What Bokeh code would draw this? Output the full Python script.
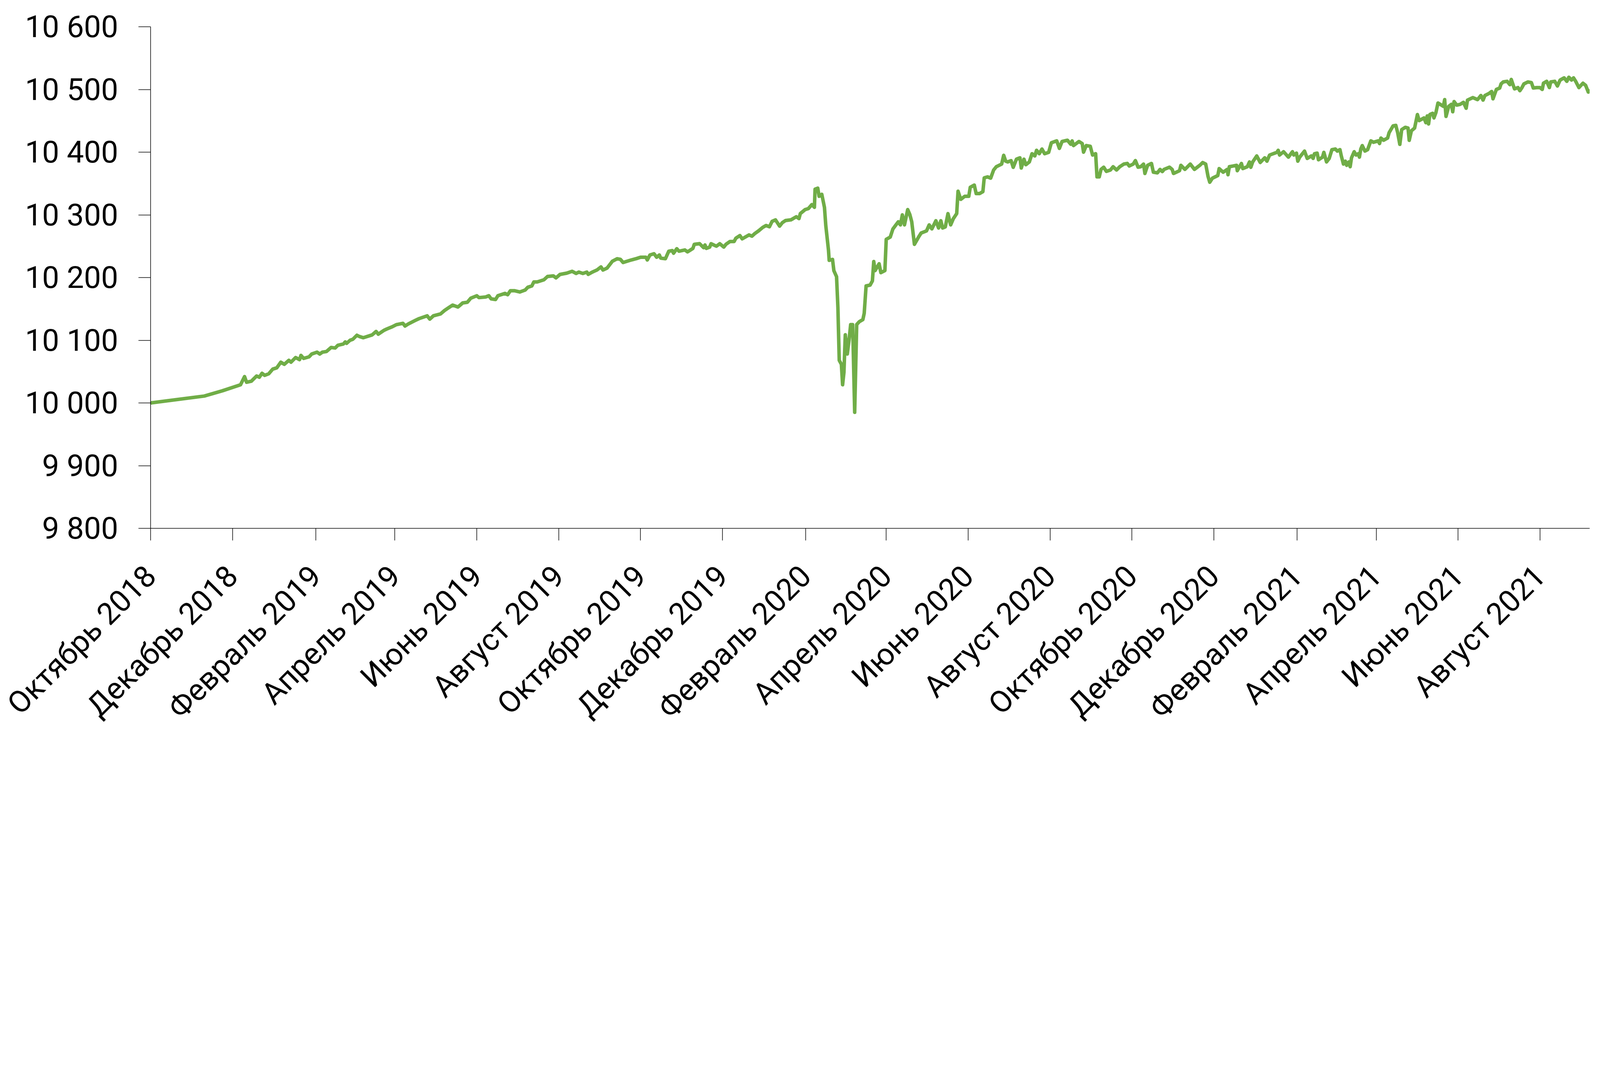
import math
import pandas as pd
from bokeh.plotting import figure
from bokeh.models import Range1d, FixedTicker, ColumnDataSource
from bokeh.embed import file_html
from bokeh.resources import INLINE

start_date = "2018-10-01"

# days since start_date
days = [
    0, 40, 53.5, 67, 70, 71.5, 75, 79, 81, 83, 85, 88, 91, 94, 97, 99.6, 103, 104.6, 108, 111,
    112, 114, 118, 120, 124, 126, 128, 131, 134.5, 137.5, 139.5, 143.6, 145, 146, 148.6, 150.7,
    153.7, 155.5, 158.5, 165, 168, 169.6, 174, 176, 180, 183, 188, 189.5, 192, 197, 200, 206,
    208, 210.7, 216, 219, 222, 225, 229, 232.5, 236, 238.5, 243, 244.6, 249.6, 252, 253.7, 257,
    258.7, 264, 266, 268, 271, 275, 279, 281, 284, 285.5, 288, 293, 295.7, 300, 302, 305, 310,
    314, 317, 319, 322, 325, 326, 329, 332.5, 335.5, 337, 340, 344, 347.6, 350, 352, 355, 358,
    362, 365, 369, 370, 372, 375, 377, 379, 380, 383.5, 386, 388.6, 389.6, 392, 393.6, 398, 400,
    404, 405, 409, 412, 413, 414, 416.5, 417.5, 421.5, 424, 427, 428.6, 431.6, 434.7, 436, 439,
    440.7, 445.8, 448, 450, 453, 456, 458.5, 461, 463, 465.5, 468.6, 470.6, 473, 477, 481, 483,
    484, 487.6, 490, 492.6, 494.5, 495, 497, 498, 500, 502, 503, 505, 505.5, 508, 509, 511, 512,
    513, 514.6, 515.5, 516.5, 517.5, 519, 520.5, 521.5, 523, 524.5, 526, 528, 530.6, 531.6, 533,
    536, 537.7, 538.7, 539.7, 542.7, 544, 547, 548, 551, 553, 557, 558.6, 560, 561.6, 564, 565.6,
    567, 569, 572.5, 574, 578, 580, 582, 585, 587, 588.7, 590, 592, 594, 596, 598, 600.5, 601.5,
    603.5, 606.5, 609.5, 610.6, 613.6, 615, 617.6, 620, 621, 623.5, 625.8, 628, 630, 634, 635.5,
    637, 638.5, 641, 642.6, 645, 647.6, 648.6, 650.6, 652, 654.6, 656.6, 658.7, 660, 662, 664,
    666, 669, 671, 675, 677, 679, 683, 685.5, 686.5, 687.5, 691.6, 694, 695, 697, 700, 701.7,
    704, 705, 706.7, 708, 710, 712, 715, 717, 719.6, 722, 725, 727.6, 729, 732, 733.6, 735.6,
    737.6, 739.7, 740.7, 742.7, 745.6, 747, 750, 752, 753.7, 755, 759, 761, 762, 766.5, 767.5,
    770.5, 774.5, 777.6, 781.6, 783.7, 786, 787.7, 789, 791, 795, 796, 799, 802, 802.6, 803.6,
    806.5, 809, 809.5, 812.6, 813.6, 817, 818.6, 819.6, 821, 824, 826.6, 830, 831.6, 833.6, 839,
    840, 841, 844, 847.6, 850.6, 851.6, 853.6, 854.6, 856, 859.6, 861.6, 864.7, 866, 867, 869,
    870, 873, 874, 876, 878, 880, 882.6, 884, 886, 887, 888.6, 890, 891, 892.6, 893.6, 894.6,
    896.6, 898, 899.6, 900.5, 901.5, 902.6, 904.6, 906.6, 909, 911, 914.5, 915.5, 916.5, 918.5,
    921.5, 922.6, 925.6, 927.6, 929, 930.6, 932, 934.7, 936.7, 937.6, 939.2, 941.6, 943.7, 945,
    948.6, 950, 951, 952, 953, 955, 956, 957.5, 959, 961.6, 963, 964, 965, 967, 969, 970, 971,
    973, 975.6, 978, 980, 981, 985, 988.5, 991, 992.6, 994, 997, 999, 1000, 1002.5, 1005, 1006,
    1007.6, 1010.5, 1012.6, 1013.6, 1016, 1018.6, 1020, 1021.6, 1023, 1026, 1028.6, 1030, 1032.7,
    1035, 1036.7, 1037.6, 1040, 1042, 1043, 1046, 1048, 1050, 1053, 1055, 1056.5, 1058.5, 1060,
    1061.6, 1064, 1067, 1069, 1071, 1072.5,
]

values = [
    10000, 10011, 10019.4, 10029, 10042, 10033, 10034.6, 10043, 10041, 10047.4, 10044, 10046.5,
    10054, 10056, 10065, 10061.6, 10068, 10065, 10072.4, 10069, 10075.8, 10071, 10073.5, 10078,
    10081, 10078, 10081, 10082, 10088.5, 10087.6, 10092, 10094, 10097.4, 10095, 10100, 10101.6,
    10108, 10106, 10104, 10108.5, 10114, 10109.7, 10116, 10118, 10121.5, 10124.8, 10127, 10122.7,
    10126, 10131.4, 10134.5, 10139, 10133.6, 10139, 10142, 10147.5, 10151.8, 10156, 10153,
    10159.5, 10160.6, 10167, 10171, 10168, 10169, 10171, 10166, 10165, 10171, 10174.7, 10172.6,
    10179, 10179, 10177, 10180, 10184.5, 10186.6, 10193, 10193, 10196.4, 10201.7, 10202.7,
    10199.5, 10205, 10207, 10210, 10206.5, 10208.7, 10206.5, 10208.7, 10205, 10208.7, 10212,
    10217, 10212, 10215, 10226, 10230, 10229, 10224, 10226, 10228, 10230.3, 10232.4, 10232.4,
    10228, 10236, 10238, 10232.4, 10236, 10231, 10230, 10242, 10243, 10238.8, 10246, 10242,
    10244, 10241, 10246.5, 10253, 10254, 10247.6, 10252, 10246.5, 10248.6, 10254, 10250, 10254,
    10248.6, 10253, 10257.5, 10257.5, 10262.8, 10267, 10261.7, 10268, 10266, 10270, 10274.6,
    10280, 10283, 10281, 10289.7, 10292, 10282, 10287.6, 10291, 10292, 10297, 10294, 10302,
    10308.4, 10310, 10316.4, 10312, 10341, 10342.6, 10329.6, 10332.8, 10311.8, 10282.5, 10243.5,
    10227.4, 10229, 10211, 10201.4, 10152.6, 10068, 10061.6, 10029, 10048.6, 10108.7, 10078,
    10104, 10125, 10125, 9985, 10125, 10129.7, 10133, 10143, 10186.6, 10188, 10194.6, 10225.6,
    10211, 10222, 10207.8, 10211, 10261, 10264.6, 10277.6, 10289, 10284, 10300, 10284, 10308.4,
    10300.4, 10289, 10253, 10266, 10271, 10274.4, 10284, 10277.6, 10290.6, 10279, 10290.6,
    10279, 10280.8, 10302, 10284, 10294, 10302, 10337.7, 10324.7, 10329.6, 10329.6, 10344,
    10347.5, 10334, 10334, 10337, 10359, 10360.6, 10358.5, 10371.5, 10376.8, 10381, 10395,
    10385.6, 10384.4, 10386.5, 10375.8, 10388.8, 10391, 10374.7, 10388.8, 10380, 10384.4,
    10397.5, 10394, 10403, 10397.5, 10405, 10397.5, 10399.7, 10415, 10418, 10406, 10417, 10419,
    10412.6, 10418, 10410.5, 10417, 10413.7, 10400, 10410.5, 10409.4, 10395.4, 10397.5,
    10360.6, 10360.6, 10372.5, 10376, 10369.3, 10371.5, 10376.8, 10371.5, 10376.8, 10381,
    10382, 10378, 10381, 10386.6, 10376, 10376.8, 10381, 10366, 10379, 10382, 10368, 10367,
    10372.5, 10369, 10372.5, 10376, 10372.5, 10366, 10370.4, 10379, 10372.5, 10381, 10372.5,
    10379, 10383.4, 10381, 10361.6, 10352, 10358.5, 10362.7, 10373.8, 10368, 10372.5, 10364,
    10376.8, 10378, 10379, 10370.4, 10382, 10373.8, 10376.8, 10384.4, 10375.8, 10384.4, 10394,
    10383.5, 10391, 10385.6, 10395.4, 10399.7, 10403, 10395.4, 10400.7, 10392, 10400.7,
    10395.4, 10398.5, 10385.6, 10392, 10401.7, 10390, 10394, 10390, 10397.5, 10398.5, 10387.8,
    10392, 10399.7, 10384.4, 10390, 10404, 10405, 10401.7, 10404, 10394, 10381, 10385.6, 10379,
    10384.4, 10376.8, 10391, 10400.7, 10395.4, 10397.5, 10392, 10405, 10410.5, 10401.7, 10404,
    10418, 10415.8, 10418, 10413.7, 10422.5, 10419, 10422.5, 10431, 10442, 10442.7, 10431,
    10412.4, 10436, 10439.6, 10438.4, 10418.8, 10434, 10438.4, 10460, 10450.3, 10454.6, 10447,
    10457.8, 10445, 10460, 10462, 10454.6, 10463.3, 10478.4, 10475, 10473, 10483.8, 10457,
    10473, 10476.3, 10464.4, 10480.7, 10475, 10476.3, 10479.5, 10470, 10483, 10487, 10483.8,
    10490.4, 10483, 10490.4, 10493.6, 10496.8, 10485, 10500, 10502.3, 10508.8, 10512, 10513,
    10507.6, 10516, 10501, 10503, 10498, 10503, 10508.8, 10512, 10511, 10502.3, 10503, 10503,
    10500, 10510, 10513, 10503, 10512, 10513, 10505.5, 10515, 10518.5, 10513, 10519.5, 10515,
    10518.5, 10513, 10503, 10510, 10506.6, 10495.8, 10499,
]

tick_dates = [
    "2018-10-01", "2018-12-01", "2019-02-01", "2019-04-01", "2019-06-01", "2019-08-01",
    "2019-10-01", "2019-12-01", "2020-02-01", "2020-04-01", "2020-06-01", "2020-08-01",
    "2020-10-01", "2020-12-01", "2021-02-01", "2021-04-01", "2021-06-01", "2021-08-01",
]
tick_labels = [
    "Октябрь 2018", "Декабрь 2018", "Февраль 2019", "Апрель 2019", "Июнь 2019", "Август 2019",
    "Октябрь 2019", "Декабрь 2019", "Февраль 2020", "Апрель 2020", "Июнь 2020", "Август 2020",
    "Октябрь 2020", "Декабрь 2020", "Февраль 2021", "Апрель 2021", "Июнь 2021", "Август 2021",
]
y_ticks = [9800, 9900, 10000, 10100, 10200, 10300, 10400, 10500, 10600]
y_labels = ["9 800", "9 900", "10 000", "10 100", "10 200", "10 300", "10 400", "10 500", "10 600"]

x_end_day = 1072
y_min, y_max = 9800, 10600

FIG_W = 4086
B_LEFT, B_RIGHT, B_TOP, B_BOTTOM = 385, 17, 68, 496
FRAME_W = FIG_W - B_LEFT - B_RIGHT
FRAME_H = 1284
FONT = "Roboto"
FS = "78px"

t0 = pd.Timestamp(start_date)
tick_pos = [int((pd.Timestamp(d) - t0).days) for d in tick_dates]

src = ColumnDataSource(data=dict(day=days, value=values))

p = figure(
    frame_width=FRAME_W, frame_height=FRAME_H,
    min_border_left=B_LEFT, min_border_right=B_RIGHT,
    min_border_top=B_TOP, min_border_bottom=B_BOTTOM,
    x_range=Range1d(0, x_end_day), y_range=Range1d(y_min, y_max),
    output_backend="svg", toolbar_location=None,
)
p.background_fill_color = "white"
p.border_fill_color = "white"
p.outline_line_color = None
p.xgrid.visible = False
p.ygrid.visible = False

p.line(x="day", y="value", source=src, line_color="#70AD47", line_width=9, line_join="round")

p.xaxis.ticker = FixedTicker(ticks=tick_pos)
p.xaxis.major_label_overrides = {tp: lab for tp, lab in zip(tick_pos, tick_labels)}
p.xaxis.major_label_orientation = math.pi / 4
p.xaxis.major_label_standoff = 78

p.yaxis.ticker = FixedTicker(ticks=y_ticks)
p.yaxis.major_label_overrides = {t: lab for t, lab in zip(y_ticks, y_labels)}
p.yaxis.major_label_standoff = 52

for ax in (p.xaxis, p.yaxis):
    ax.axis_line_color = "black"
    ax.axis_line_width = 1.5
    ax.major_tick_line_color = "black"
    ax.major_tick_line_width = 1.5
    ax.major_tick_out = 31
    ax.major_tick_in = 0
    ax.minor_tick_line_color = None
    ax.major_label_text_font = FONT
    ax.major_label_text_font_size = FS
    ax.major_label_text_color = "black"

open("out.html", "w").write(file_html(p, INLINE))
